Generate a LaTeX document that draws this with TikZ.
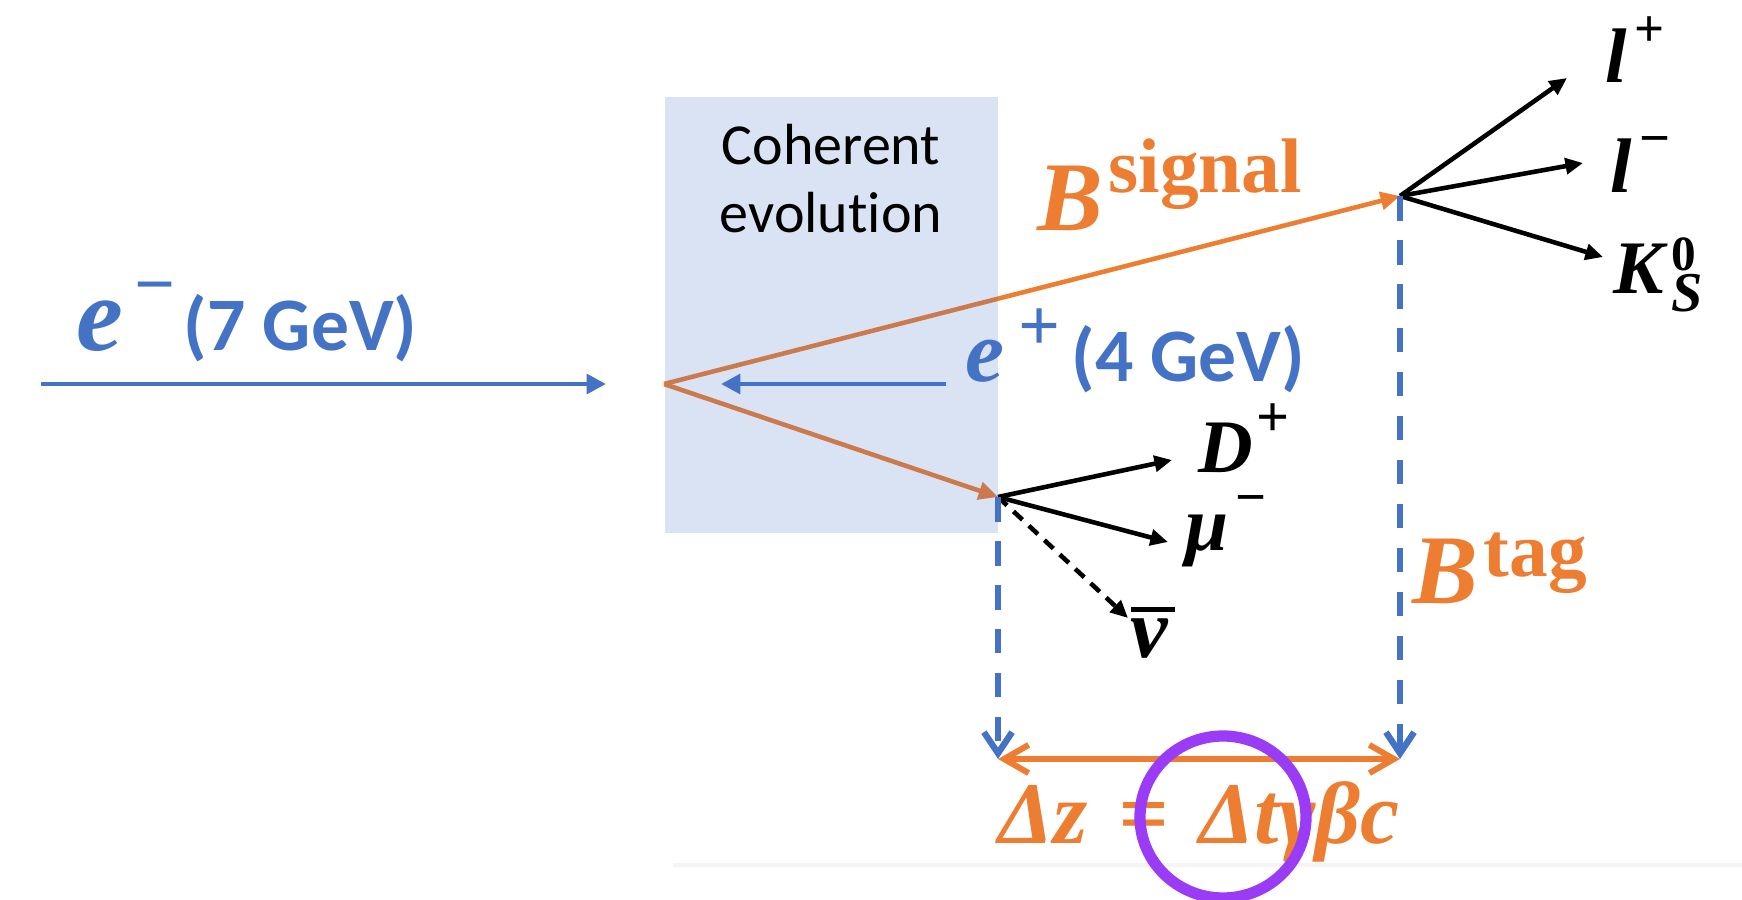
\documentclass[tikz,border=0pt]{standalone}
\usepackage{fontspec}
\setmainfont{Carlito}[Ligatures=NoCommon]
\newfontfamily\physfont{Liberation Serif}
\usetikzlibrary{positioning, arrows.meta, calc}
\definecolor{PPT_Blue}{HTML}{4472C4}
\definecolor{PPT_Orange}{HTML}{ED7D31}
\definecolor{Ink_Purple}{HTML}{9A3BF5}
\definecolor{Slide_Gray}{HTML}{F4F4F4}
\newcommand{\fsz}[1]{\fontsize{#1}{#1}\selectfont}
\newcommand{\physbi}{\physfont\bfseries\itshape}
\newcommand{\physbf}{\physfont\bfseries\upshape}

\begin{document}
\begin{tikzpicture}[
  x=0.01cm, y=-0.01cm,
  lbl/.style={inner sep=0pt, anchor=base west},
  beam/.style={PPT_Blue, line width=1.4pt, -{Triangle[length=5.5pt, width=5.5pt]}},
  bmeson/.style={PPT_Orange, line width=1.3pt, -{Triangle[length=5.5pt, width=5pt]}},
  decay/.style={black, line width=1.3pt, -{Triangle[length=5pt, width=4.5pt]}},
  vertproj/.style={PPT_Blue, line width=1.8pt, dash pattern=on 7pt off 5.5pt,
    -{Straight Barb[length=6pt, width=8pt]}},
  deltaz/.style={PPT_Orange, line width=1.7pt,
    {Straight Barb[length=7pt, width=8pt]}-{Straight Barb[length=7pt, width=8pt]}}
]
  \useasboundingbox (0,0) rectangle (1742,900);
  \clip (0,0) rectangle (1742,900);

  % Vertices
  \coordinate (ip) at (664,384);
  \coordinate (sigv) at (1400,196);
  \coordinate (tagv) at (998,497);

  % Beams
  \coordinate (eminusS) at (41,384);
  \coordinate (eminusE) at (606,384);
  \coordinate (eplusS) at (946,384);
  \coordinate (eplusE) at (721,384);
  \draw[beam] (eminusS) -- (eminusE);
  \draw[bmeson] (ip) -- (sigv);
  \draw[bmeson] (ip) -- (tagv);
  \draw[beam] (eplusS) -- (eplusE);

  % Coherent evolution region (drawn over the tracks)
  \node[anchor=north west, inner sep=0pt, minimum width=3.33cm, minimum height=4.36cm,
    fill=PPT_Blue, fill opacity=0.2] (cohbox) at (664,96) {};
  \node[anchor=north, inner sep=0pt, align=center,
    font=\fontsize{16.5}{19.1}\selectfont] (evo) at (831,124) {Coherent\\evolution};

  % Beam labels
  \node[lbl, text=PPT_Blue] (eminus) at (76,350)
    {{\fsz{30}\physbi e}\hspace{3pt}\raisebox{11.9pt}{\fsz{20.5}\physbf −}\hspace{2.5pt}{\fsz{21.5}\bfseries (7 GeV)}};
  \node[lbl, text=PPT_Blue] (eplus) at (965,381)
    {{\fsz{25}\physbi e}\hspace{4pt}\raisebox{8.7pt}{\fsz{21}\physbf +}\hspace{3pt}{\fsz{21.5}\bfseries (4 GeV)}};

  % B mesons
  \node[lbl, text=PPT_Orange] (bsig) at (1037,230)
    {{\fsz{28}\physbi B}\hspace{1.5pt}\raisebox{10.8pt}{\fsz{22}\physbf signal}};
  \node[lbl, text=PPT_Orange] (btag) at (1412,603)
    {{\fsz{28}\physbi B}\hspace{1.5pt}\raisebox{7.4pt}{\fsz{22}\physbf tag}};

  % Signal side decay products
  \coordinate (lpE) at (1567,78);
  \coordinate (lmE) at (1583,163);
  \coordinate (ksE) at (1603,257);
  \draw[decay] (sigv) -- (lpE);
  \draw[decay] (sigv) -- (lmE);
  \draw[decay] (sigv) -- (ksE);
  \node[lbl] (lplus) at (1605,82)
    {{\fsz{22}\physbi l}\hspace{2pt}\raisebox{10pt}{\fsz{15}\physbf +}};
  \node[lbl] (lminus) at (1610,192)
    {{\fsz{22}\physbi l}\hspace{2pt}\raisebox{10.2pt}{\fsz{15.5}\physbf −}};
  \node[lbl] (kshort) at (1613,293)
    {{\fsz{21.5}\physbi K}\hspace{2pt}\rlap{\raisebox{-5.4pt}{\fsz{16}\physbi S}}\raisebox{6.5pt}{\fsz{14}\physbf 0}};

  % Tag side decay products
  \coordinate (dpE) at (1172,460);
  \coordinate (muE) at (1168,542);
  \coordinate (nuE) at (1128,618);
  \draw[decay] (tagv) -- (dpE);
  \draw[decay] (tagv) -- (muE);
  \draw[decay, dash pattern=on 3.5pt off 2.5pt] (tagv) -- (nuE);
  \node[lbl] (dplus) at (1198,472)
    {{\fsz{21.5}\physbi D}\hspace{1pt}\raisebox{10pt}{\fsz{16.5}\physbf +}};
  \node[lbl] (muon) at (1185,550)
    {{\fsz{22}\physbi μ}\hspace{2pt}\raisebox{9.8pt}{\fsz{15.5}\physbf −}};
  \node[lbl] (nubar) at (1130,657)
    {\rlap{\raisebox{12.8pt}{\rule{12.5pt}{1.4pt}}}{\fsz{24}\physbi ν}};

  % Decay length
  \coordinate (dzL) at (998,759);
  \coordinate (dzR) at (1400,759);
  \draw[vertproj] (tagv) -- (tagv |- dzL);
  \draw[vertproj] (sigv) -- (sigv |- dzR);
  \draw[deltaz] (dzL) -- (dzR);
  \node[lbl, text=PPT_Orange] (dzform) at (998,843)
    {\fsz{25}\physbi Δz\hspace{0.35em}=\hspace{0.35em}Δtγβc};

  % Slide edge and ink mark
  \draw[Slide_Gray, line width=1.4pt] (673,865) -- (1742,865);
  \draw[Ink_Purple, line width=3.2pt] (1223,817) ellipse [x radius=83, y radius=81];
\end{tikzpicture}
\end{document}
